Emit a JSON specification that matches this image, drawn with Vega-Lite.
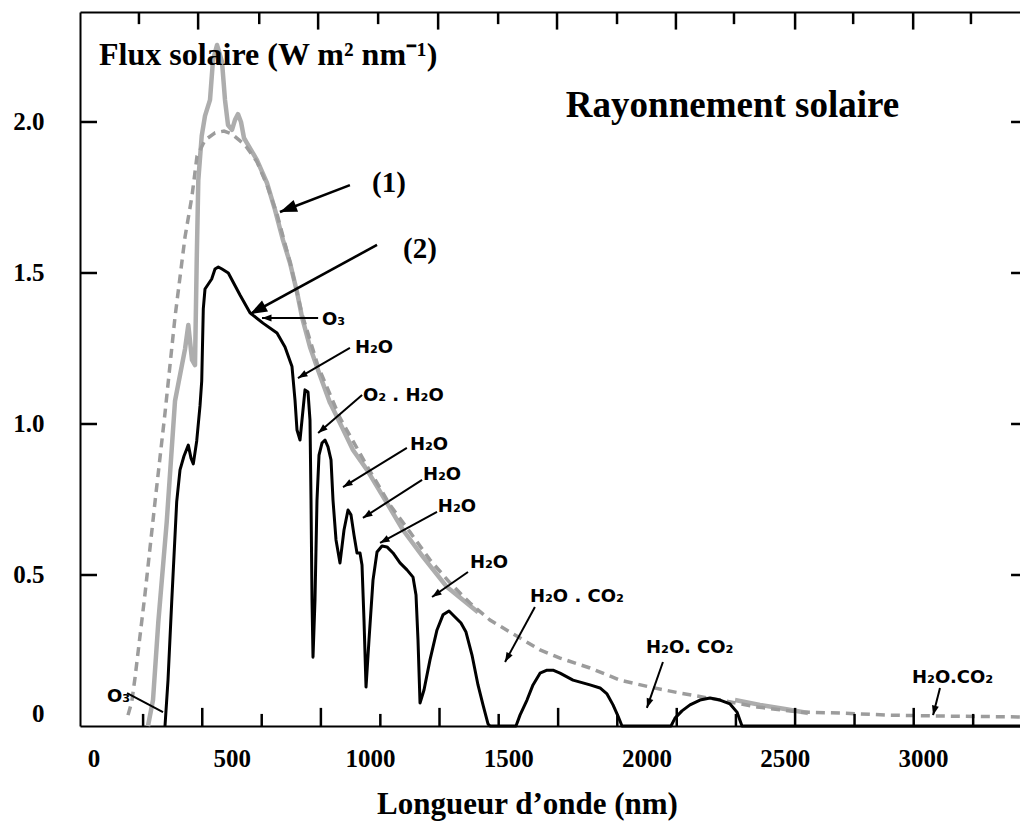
{
  "$schema": "https://vega.github.io/schema/vega-lite/v6.json",
  "background": "white",
  "autosize": {"type": "none"},
  "padding": {"left": 80, "top": 12, "right": 0, "bottom": 96},
  "width": 940,
  "height": 714,
  "config": {
    "view": {"stroke": null},
    "axis": {
      "grid": false,
      "domainColor": "black",
      "domainWidth": 2,
      "labelColor": "black",
      "titleColor": "black",
      "labelFont": "Liberation Serif",
      "titleFont": "Liberation Serif",
      "labelFontWeight": "bold",
      "titleFontWeight": "bold"
    }
  },
  "datasets": {
    "spectre": [
      {"serie": "extraterrestre", "seg": "a", "nm": 196.7, "flux": 0},
      {"serie": "extraterrestre", "seg": "a", "nm": 214.8, "flux": 0.086},
      {"serie": "extraterrestre", "seg": "a", "nm": 234.0, "flux": 0.344},
      {"serie": "extraterrestre", "seg": "a", "nm": 264.4, "flux": 0.675},
      {"serie": "extraterrestre", "seg": "a", "nm": 294.4, "flux": 1.076},
      {"serie": "extraterrestre", "seg": "a", "nm": 330.6, "flux": 1.248},
      {"serie": "extraterrestre", "seg": "a", "nm": 342.5, "flux": 1.328},
      {"serie": "extraterrestre", "seg": "a", "nm": 355.9, "flux": 1.212},
      {"serie": "extraterrestre", "seg": "a", "nm": 366.7, "flux": 1.195},
      {"serie": "extraterrestre", "seg": "a", "nm": 372.9, "flux": 1.54},
      {"serie": "extraterrestre", "seg": "a", "nm": 378.7, "flux": 1.808},
      {"serie": "extraterrestre", "seg": "a", "nm": 391.0, "flux": 1.954},
      {"serie": "extraterrestre", "seg": "a", "nm": 402.9, "flux": 2.02},
      {"serie": "extraterrestre", "seg": "a", "nm": 421.0, "flux": 2.073},
      {"serie": "extraterrestre", "seg": "a", "nm": 431.8, "flux": 2.205},
      {"serie": "extraterrestre", "seg": "a", "nm": 446.3, "flux": 2.255},
      {"serie": "extraterrestre", "seg": "a", "nm": 464.4, "flux": 2.199},
      {"serie": "extraterrestre", "seg": "a", "nm": 475.2, "flux": 2.073},
      {"serie": "extraterrestre", "seg": "a", "nm": 486.1, "flux": 1.99},
      {"serie": "extraterrestre", "seg": "a", "nm": 500.5, "flux": 1.974},
      {"serie": "extraterrestre", "seg": "a", "nm": 511.4, "flux": 2.007},
      {"serie": "extraterrestre", "seg": "a", "nm": 522.2, "flux": 2.026},
      {"serie": "extraterrestre", "seg": "a", "nm": 533.1, "flux": 2.0},
      {"serie": "extraterrestre", "seg": "a", "nm": 543.9, "flux": 1.947},
      {"serie": "extraterrestre", "seg": "a", "nm": 554.8, "flux": 1.93},
      {"serie": "extraterrestre", "seg": "a", "nm": 590.9, "flux": 1.874},
      {"serie": "extraterrestre", "seg": "a", "nm": 627.1, "flux": 1.798},
      {"serie": "extraterrestre", "seg": "a", "nm": 656.1, "flux": 1.709},
      {"serie": "extraterrestre", "seg": "a", "nm": 685.0, "flux": 1.609},
      {"serie": "extraterrestre", "seg": "a", "nm": 710.3, "flux": 1.533},
      {"serie": "extraterrestre", "seg": "a", "nm": 735.6, "flux": 1.437},
      {"serie": "extraterrestre", "seg": "a", "nm": 753.7, "flux": 1.354},
      {"serie": "extraterrestre", "seg": "a", "nm": 782.6, "flux": 1.255},
      {"serie": "extraterrestre", "seg": "a", "nm": 811.6, "flux": 1.179},
      {"serie": "extraterrestre", "seg": "a", "nm": 855.0, "flux": 1.07},
      {"serie": "extraterrestre", "seg": "a", "nm": 891.1, "flux": 1.003},
      {"serie": "extraterrestre", "seg": "a", "nm": 938.1, "flux": 0.914},
      {"serie": "extraterrestre", "seg": "a", "nm": 988.8, "flux": 0.848},
      {"serie": "extraterrestre", "seg": "a", "nm": 1061.1, "flux": 0.738},
      {"serie": "extraterrestre", "seg": "a", "nm": 1119.0, "flux": 0.649},
      {"serie": "extraterrestre", "seg": "a", "nm": 1191.3, "flux": 0.56},
      {"serie": "extraterrestre", "seg": "a", "nm": 1278.1, "flux": 0.46},
      {"serie": "extraterrestre", "seg": "a", "nm": 1336.0, "flux": 0.417},
      {"serie": "extraterrestre", "seg": "a", "nm": 1390.2, "flux": 0.377},
      {"serie": "extraterrestre", "seg": "b", "nm": 2319.7, "flux": 0.086},
      {"serie": "extraterrestre", "seg": "b", "nm": 2410.1, "flux": 0.07},
      {"serie": "extraterrestre", "seg": "b", "nm": 2500.5, "flux": 0.056},
      {"serie": "extraterrestre", "seg": "b", "nm": 2583.7, "flux": 0.043},

      {"serie": "corps_noir", "seg": "a", "nm": 124.4, "flux": 0.036},
      {"serie": "corps_noir", "seg": "a", "nm": 137.8, "flux": 0.079},
      {"serie": "corps_noir", "seg": "a", "nm": 149.7, "flux": 0.159},
      {"serie": "corps_noir", "seg": "a", "nm": 185.9, "flux": 0.437},
      {"serie": "corps_noir", "seg": "a", "nm": 222.1, "flux": 0.742},
      {"serie": "corps_noir", "seg": "a", "nm": 258.2, "flux": 1.036},
      {"serie": "corps_noir", "seg": "a", "nm": 294.4, "flux": 1.354},
      {"serie": "corps_noir", "seg": "a", "nm": 330.6, "flux": 1.619},
      {"serie": "corps_noir", "seg": "a", "nm": 355.9, "flux": 1.755},
      {"serie": "corps_noir", "seg": "a", "nm": 374.0, "flux": 1.887},
      {"serie": "corps_noir", "seg": "a", "nm": 402.9, "flux": 1.94},
      {"serie": "corps_noir", "seg": "a", "nm": 439.1, "flux": 1.964},
      {"serie": "corps_noir", "seg": "a", "nm": 471.6, "flux": 1.97},
      {"serie": "corps_noir", "seg": "a", "nm": 500.5, "flux": 1.96},
      {"serie": "corps_noir", "seg": "a", "nm": 547.6, "flux": 1.924},
      {"serie": "corps_noir", "seg": "a", "nm": 590.9, "flux": 1.868},
      {"serie": "corps_noir", "seg": "a", "nm": 627.1, "flux": 1.791},
      {"serie": "corps_noir", "seg": "a", "nm": 663.3, "flux": 1.695},
      {"serie": "corps_noir", "seg": "a", "nm": 710.3, "flux": 1.536},
      {"serie": "corps_noir", "seg": "a", "nm": 753.7, "flux": 1.364},
      {"serie": "corps_noir", "seg": "a", "nm": 811.6, "flux": 1.192},
      {"serie": "corps_noir", "seg": "a", "nm": 891.1, "flux": 1.02},
      {"serie": "corps_noir", "seg": "a", "nm": 988.8, "flux": 0.861},
      {"serie": "corps_noir", "seg": "a", "nm": 1071.9, "flux": 0.732},
      {"serie": "corps_noir", "seg": "a", "nm": 1144.3, "flux": 0.642},
      {"serie": "corps_noir", "seg": "a", "nm": 1216.6, "flux": 0.55},
      {"serie": "corps_noir", "seg": "a", "nm": 1289.0, "flux": 0.474},
      {"serie": "corps_noir", "seg": "a", "nm": 1361.3, "flux": 0.407},
      {"serie": "corps_noir", "seg": "a", "nm": 1433.6, "flux": 0.351},
      {"serie": "corps_noir", "seg": "a", "nm": 1505.9, "flux": 0.311},
      {"serie": "corps_noir", "seg": "a", "nm": 1614.5, "flux": 0.252},
      {"serie": "corps_noir", "seg": "a", "nm": 1686.8, "flux": 0.225},
      {"serie": "corps_noir", "seg": "a", "nm": 1795.3, "flux": 0.192},
      {"serie": "corps_noir", "seg": "a", "nm": 1903.8, "flux": 0.152},
      {"serie": "corps_noir", "seg": "a", "nm": 2012.3, "flux": 0.129},
      {"serie": "corps_noir", "seg": "a", "nm": 2120.8, "flux": 0.109},
      {"serie": "corps_noir", "seg": "a", "nm": 2265.4, "flux": 0.086},
      {"serie": "corps_noir", "seg": "a", "nm": 2399.3, "flux": 0.063},
      {"serie": "corps_noir", "seg": "a", "nm": 2554.8, "flux": 0.046},
      {"serie": "corps_noir", "seg": "a", "nm": 2699.4, "flux": 0.043},
      {"serie": "corps_noir", "seg": "a", "nm": 2880.3, "flux": 0.036},
      {"serie": "corps_noir", "seg": "a", "nm": 3061.1, "flux": 0.033},
      {"serie": "corps_noir", "seg": "a", "nm": 3350.4, "flux": 0.03},

      {"serie": "niveau_mer", "seg": "a", "nm": 258.2, "flux": 0},
      {"serie": "niveau_mer", "seg": "a", "nm": 269.1, "flux": 0.152},
      {"serie": "niveau_mer", "seg": "a", "nm": 282.5, "flux": 0.411},
      {"serie": "niveau_mer", "seg": "a", "nm": 300.5, "flux": 0.742},
      {"serie": "niveau_mer", "seg": "a", "nm": 312.5, "flux": 0.848},
      {"serie": "niveau_mer", "seg": "a", "nm": 326.9, "flux": 0.894},
      {"serie": "niveau_mer", "seg": "a", "nm": 342.5, "flux": 0.93},
      {"serie": "niveau_mer", "seg": "a", "nm": 352.3, "flux": 0.887},
      {"serie": "niveau_mer", "seg": "a", "nm": 360.6, "flux": 0.868},
      {"serie": "niveau_mer", "seg": "a", "nm": 372.9, "flux": 0.944},
      {"serie": "niveau_mer", "seg": "a", "nm": 384.8, "flux": 1.06},
      {"serie": "niveau_mer", "seg": "a", "nm": 391.0, "flux": 1.142},
      {"serie": "niveau_mer", "seg": "a", "nm": 396.7, "flux": 1.381},
      {"serie": "niveau_mer", "seg": "a", "nm": 402.9, "flux": 1.447},
      {"serie": "niveau_mer", "seg": "a", "nm": 427.1, "flux": 1.48},
      {"serie": "niveau_mer", "seg": "a", "nm": 439.1, "flux": 1.513},
      {"serie": "niveau_mer", "seg": "a", "nm": 451.0, "flux": 1.52},
      {"serie": "niveau_mer", "seg": "a", "nm": 464.4, "flux": 1.513},
      {"serie": "niveau_mer", "seg": "a", "nm": 487.2, "flux": 1.5},
      {"serie": "niveau_mer", "seg": "a", "nm": 529.5, "flux": 1.427},
      {"serie": "niveau_mer", "seg": "a", "nm": 565.6, "flux": 1.368},
      {"serie": "niveau_mer", "seg": "a", "nm": 612.6, "flux": 1.334},
      {"serie": "niveau_mer", "seg": "a", "nm": 663.3, "flux": 1.301},
      {"serie": "niveau_mer", "seg": "a", "nm": 692.2, "flux": 1.255},
      {"serie": "niveau_mer", "seg": "a", "nm": 717.5, "flux": 1.19},
      {"serie": "niveau_mer", "seg": "a", "nm": 728.4, "flux": 1.079},
      {"serie": "niveau_mer", "seg": "a", "nm": 735.6, "flux": 0.98},
      {"serie": "niveau_mer", "seg": "a", "nm": 746.5, "flux": 0.947},
      {"serie": "niveau_mer", "seg": "a", "nm": 764.5, "flux": 1.113},
      {"serie": "niveau_mer", "seg": "a", "nm": 775.4, "flux": 1.106},
      {"serie": "niveau_mer", "seg": "a", "nm": 782.6, "flux": 1.013},
      {"serie": "niveau_mer", "seg": "a", "nm": 786.3, "flux": 0.748},
      {"serie": "niveau_mer", "seg": "a", "nm": 789.9, "flux": 0.417},
      {"serie": "niveau_mer", "seg": "a", "nm": 793.5, "flux": 0.228},
      {"serie": "niveau_mer", "seg": "a", "nm": 800.7, "flux": 0.417},
      {"serie": "niveau_mer", "seg": "a", "nm": 807.9, "flux": 0.748},
      {"serie": "niveau_mer", "seg": "a", "nm": 815.2, "flux": 0.897},
      {"serie": "niveau_mer", "seg": "a", "nm": 826.0, "flux": 0.937},
      {"serie": "niveau_mer", "seg": "a", "nm": 836.9, "flux": 0.947},
      {"serie": "niveau_mer", "seg": "a", "nm": 847.7, "flux": 0.924},
      {"serie": "niveau_mer", "seg": "a", "nm": 858.6, "flux": 0.881},
      {"serie": "niveau_mer", "seg": "a", "nm": 865.8, "flux": 0.748},
      {"serie": "niveau_mer", "seg": "a", "nm": 876.7, "flux": 0.616},
      {"serie": "niveau_mer", "seg": "a", "nm": 891.1, "flux": 0.54},
      {"serie": "niveau_mer", "seg": "a", "nm": 905.6, "flux": 0.649},
      {"serie": "niveau_mer", "seg": "a", "nm": 920.1, "flux": 0.715},
      {"serie": "niveau_mer", "seg": "a", "nm": 930.9, "flux": 0.699},
      {"serie": "niveau_mer", "seg": "a", "nm": 941.8, "flux": 0.632},
      {"serie": "niveau_mer", "seg": "a", "nm": 952.6, "flux": 0.573},
      {"serie": "niveau_mer", "seg": "a", "nm": 963.5, "flux": 0.573},
      {"serie": "niveau_mer", "seg": "a", "nm": 970.7, "flux": 0.533},
      {"serie": "niveau_mer", "seg": "a", "nm": 977.9, "flux": 0.351},
      {"serie": "niveau_mer", "seg": "a", "nm": 985.2, "flux": 0.129},
      {"serie": "niveau_mer", "seg": "a", "nm": 996.0, "flux": 0.285},
      {"serie": "niveau_mer", "seg": "a", "nm": 1010.5, "flux": 0.483},
      {"serie": "niveau_mer", "seg": "a", "nm": 1025.0, "flux": 0.576},
      {"serie": "niveau_mer", "seg": "a", "nm": 1043.0, "flux": 0.596},
      {"serie": "niveau_mer", "seg": "a", "nm": 1061.1, "flux": 0.593},
      {"serie": "niveau_mer", "seg": "a", "nm": 1082.8, "flux": 0.573},
      {"serie": "niveau_mer", "seg": "a", "nm": 1108.1, "flux": 0.54},
      {"serie": "niveau_mer", "seg": "a", "nm": 1133.4, "flux": 0.517},
      {"serie": "niveau_mer", "seg": "a", "nm": 1155.1, "flux": 0.493},
      {"serie": "niveau_mer", "seg": "a", "nm": 1166.0, "flux": 0.434},
      {"serie": "niveau_mer", "seg": "a", "nm": 1173.2, "flux": 0.285},
      {"serie": "niveau_mer", "seg": "a", "nm": 1180.5, "flux": 0.076},
      {"serie": "niveau_mer", "seg": "a", "nm": 1194.9, "flux": 0.119},
      {"serie": "niveau_mer", "seg": "a", "nm": 1216.6, "flux": 0.219},
      {"serie": "niveau_mer", "seg": "a", "nm": 1241.9, "flux": 0.318},
      {"serie": "niveau_mer", "seg": "a", "nm": 1263.6, "flux": 0.368},
      {"serie": "niveau_mer", "seg": "a", "nm": 1285.3, "flux": 0.381},
      {"serie": "niveau_mer", "seg": "a", "nm": 1307.0, "flux": 0.361},
      {"serie": "niveau_mer", "seg": "a", "nm": 1328.7, "flux": 0.341},
      {"serie": "niveau_mer", "seg": "a", "nm": 1346.8, "flux": 0.311},
      {"serie": "niveau_mer", "seg": "a", "nm": 1368.5, "flux": 0.235},
      {"serie": "niveau_mer", "seg": "a", "nm": 1390.2, "flux": 0.136},
      {"serie": "niveau_mer", "seg": "a", "nm": 1408.3, "flux": 0.07},
      {"serie": "niveau_mer", "seg": "a", "nm": 1426.4, "flux": 0.007},
      {"serie": "niveau_mer", "seg": "a", "nm": 1433.6, "flux": 0},
      {"serie": "niveau_mer", "seg": "a", "nm": 1527.6, "flux": 0},
      {"serie": "niveau_mer", "seg": "a", "nm": 1542.1, "flux": 0.036},
      {"serie": "niveau_mer", "seg": "a", "nm": 1567.4, "flux": 0.086},
      {"serie": "niveau_mer", "seg": "a", "nm": 1589.1, "flux": 0.136},
      {"serie": "niveau_mer", "seg": "a", "nm": 1614.5, "flux": 0.175},
      {"serie": "niveau_mer", "seg": "a", "nm": 1639.8, "flux": 0.185},
      {"serie": "niveau_mer", "seg": "a", "nm": 1661.5, "flux": 0.185},
      {"serie": "niveau_mer", "seg": "a", "nm": 1686.8, "flux": 0.175},
      {"serie": "niveau_mer", "seg": "a", "nm": 1733.8, "flux": 0.152},
      {"serie": "niveau_mer", "seg": "a", "nm": 1795.3, "flux": 0.136},
      {"serie": "niveau_mer", "seg": "a", "nm": 1831.5, "flux": 0.126},
      {"serie": "niveau_mer", "seg": "a", "nm": 1856.8, "flux": 0.106},
      {"serie": "niveau_mer", "seg": "a", "nm": 1878.5, "flux": 0.07},
      {"serie": "niveau_mer", "seg": "a", "nm": 1896.6, "flux": 0.033},
      {"serie": "niveau_mer", "seg": "a", "nm": 1911.0, "flux": 0},
      {"serie": "niveau_mer", "seg": "a", "nm": 2088.2, "flux": 0},
      {"serie": "niveau_mer", "seg": "a", "nm": 2102.7, "flux": 0.026},
      {"serie": "niveau_mer", "seg": "a", "nm": 2128.0, "flux": 0.05},
      {"serie": "niveau_mer", "seg": "a", "nm": 2156.9, "flux": 0.07},
      {"serie": "niveau_mer", "seg": "a", "nm": 2193.1, "flux": 0.086},
      {"serie": "niveau_mer", "seg": "a", "nm": 2229.3, "flux": 0.093},
      {"serie": "niveau_mer", "seg": "a", "nm": 2265.4, "flux": 0.086},
      {"serie": "niveau_mer", "seg": "a", "nm": 2301.6, "flux": 0.073},
      {"serie": "niveau_mer", "seg": "a", "nm": 2326.9, "flux": 0.046},
      {"serie": "niveau_mer", "seg": "a", "nm": 2345.0, "flux": 0},
      {"serie": "niveau_mer", "seg": "a", "nm": 3350.4, "flux": 0}
    ],
    "textes": [
      {"kind": "axe", "txt": "Flux solaire (W m² nm⁻¹)", "nm": 19.5, "flux": 2.19},
      {"kind": "titre", "txt": "Rayonnement solaire", "nm": 1708, "flux": 2.018},
      {"kind": "num", "txt": "(1)", "nm": 1007, "flux": 1.768},
      {"kind": "num", "txt": "(2)", "nm": 1119, "flux": 1.55},
      {"kind": "chem", "txt": "O₃", "nm": 826, "flux": 1.344},
      {"kind": "chem", "txt": "H₂O", "nm": 945, "flux": 1.252},
      {"kind": "chem", "txt": "O₂ . H₂O", "nm": 974, "flux": 1.093},
      {"kind": "chem", "txt": "H₂O", "nm": 1144, "flux": 0.93},
      {"kind": "chem", "txt": "H₂O", "nm": 1191, "flux": 0.831},
      {"kind": "chem", "txt": "H₂O", "nm": 1245, "flux": 0.725},
      {"kind": "chem", "txt": "H₂O", "nm": 1361, "flux": 0.54},
      {"kind": "chem", "txt": "H₂O . CO₂", "nm": 1578, "flux": 0.426},
      {"kind": "chem", "txt": "H₂O. CO₂", "nm": 1998, "flux": 0.258},
      {"kind": "chem", "txt": "H₂O.CO₂", "nm": 2960, "flux": 0.159},
      {"kind": "chem", "txt": "O₃", "nm": 48, "flux": 0.096}
    ],
    "fleches": [
      {"kind": "num", "from_nm": 927, "from_flux": 1.791, "to_nm": 674, "to_flux": 1.702, "head": true},
      {"kind": "num", "from_nm": 1025, "from_flux": 1.593, "to_nm": 566, "to_flux": 1.364, "head": true},
      {"kind": "chem", "from_nm": 812, "from_flux": 1.351, "to_nm": 609, "to_flux": 1.351, "head": true},
      {"kind": "chem", "from_nm": 927, "from_flux": 1.252, "to_nm": 739, "to_flux": 1.152, "head": true},
      {"kind": "chem", "from_nm": 971, "from_flux": 1.096, "to_nm": 812, "to_flux": 0.97, "head": true},
      {"kind": "chem", "from_nm": 1133, "from_flux": 0.921, "to_nm": 902, "to_flux": 0.791, "head": true},
      {"kind": "chem", "from_nm": 1188, "from_flux": 0.815, "to_nm": 974, "to_flux": 0.689, "head": true},
      {"kind": "chem", "from_nm": 1242, "from_flux": 0.709, "to_nm": 1036, "to_flux": 0.606, "head": true},
      {"kind": "chem", "from_nm": 1354, "from_flux": 0.51, "to_nm": 1224, "to_flux": 0.427, "head": true},
      {"kind": "chem", "from_nm": 1596, "from_flux": 0.394, "to_nm": 1488, "to_flux": 0.212, "head": true},
      {"kind": "chem", "from_nm": 2059, "from_flux": 0.212, "to_nm": 2001, "to_flux": 0.06, "head": true},
      {"kind": "chem", "from_nm": 3061, "from_flux": 0.126, "to_nm": 3036, "to_flux": 0.036, "head": true},
      {"kind": "chem", "from_nm": 121, "from_flux": 0.109, "to_nm": 251, "to_flux": 0.046, "head": false}
    ],
    "graduations_x": [
      {"bord": "bas", "rang": "court", "nm": 179},
      {"bord": "bas", "rang": "long", "nm": 393},
      {"bord": "bas", "rang": "court", "nm": 608},
      {"bord": "bas", "rang": "long", "nm": 822},
      {"bord": "bas", "rang": "court", "nm": 1037},
      {"bord": "bas", "rang": "long", "nm": 1251},
      {"bord": "bas", "rang": "court", "nm": 1465},
      {"bord": "bas", "rang": "long", "nm": 1680},
      {"bord": "bas", "rang": "court", "nm": 1894},
      {"bord": "bas", "rang": "long", "nm": 2109},
      {"bord": "bas", "rang": "court", "nm": 2323},
      {"bord": "bas", "rang": "long", "nm": 2537},
      {"bord": "bas", "rang": "court", "nm": 2752},
      {"bord": "bas", "rang": "long", "nm": 2966},
      {"bord": "bas", "rang": "court", "nm": 3181},
      {"bord": "haut", "rang": "court", "nm": 164},
      {"bord": "haut", "rang": "long", "nm": 378},
      {"bord": "haut", "rang": "court", "nm": 599},
      {"bord": "haut", "rang": "long", "nm": 812},
      {"bord": "haut", "rang": "court", "nm": 1029},
      {"bord": "haut", "rang": "long", "nm": 1246},
      {"bord": "haut", "rang": "court", "nm": 1463},
      {"bord": "haut", "rang": "long", "nm": 1676},
      {"bord": "haut", "rang": "court", "nm": 1893},
      {"bord": "haut", "rang": "long", "nm": 2106},
      {"bord": "haut", "rang": "court", "nm": 2316},
      {"bord": "haut", "rang": "long", "nm": 2537},
      {"bord": "haut", "rang": "court", "nm": 2747},
      {"bord": "haut", "rang": "long", "nm": 2964},
      {"bord": "haut", "rang": "court", "nm": 3173}
    ],
    "graduations_y": [
      {"flux": 0.5},
      {"flux": 1.0},
      {"flux": 1.5},
      {"flux": 2.0}
    ]
  },
  "resolve": {"axis": {"x": "independent", "y": "independent"}},
  "layer": [
    {
      "data": {"name": "spectre"},
      "transform": [{"filter": "datum.serie == 'extraterrestre'"}],
      "mark": {"type": "line", "color": "#adadad", "strokeWidth": 4.5, "strokeJoin": "round"},
      "encoding": {
        "x": {"field": "nm", "type": "quantitative",
          "scale": {"domain": [-49.2, 3350.4], "nice": false, "zero": false},
          "axis": {"orient": "bottom", "values": [0, 500, 1000, 1500, 2000, 2500, 3000], "format": "d",
            "ticks": false, "domain": true, "labelFontSize": 25, "labelPadding": 20,
            "labelFlush": false, "labelOverlap": false,
            "title": "Longueur d’onde (nm)", "titleFontSize": 31, "titleX": 447, "titleY": 87,
            "titleBaseline": "alphabetic"}},
        "y": {"field": "flux", "type": "quantitative",
          "scale": {"domain": [0, 2.3642], "nice": false, "zero": false},
          "axis": {"orient": "left", "values": [0, 0.5, 1, 1.5, 2],
            "labelExpr": "datum.value == 0 ? '0' : format(datum.value, '.1f')",
            "ticks": false, "labelPadding": 36, "labelFontSize": 25, "labelFlush": true,
            "domain": true, "title": null}},
        "detail": {"field": "seg", "type": "nominal"}
      }
    },
    {
      "data": {"name": "spectre"},
      "transform": [{"filter": "datum.serie == 'corps_noir'"}],
      "mark": {"type": "line", "color": "#9c9c9c", "strokeWidth": 3.5, "strokeDash": [9, 6]},
      "encoding": {
        "x": {"field": "nm", "type": "quantitative",
          "scale": {"domain": [-49.2, 3350.4], "nice": false, "zero": false},
          "axis": {"orient": "top", "ticks": false, "labels": false, "domain": true, "title": null}},
        "y": {"field": "flux", "type": "quantitative",
          "scale": {"domain": [0, 2.3642], "nice": false, "zero": false}, "axis": null}
      }
    },
    {
      "data": {"name": "spectre"},
      "transform": [{"filter": "datum.serie == 'niveau_mer'"}],
      "mark": {"type": "line", "color": "black", "strokeWidth": 3, "strokeJoin": "round"},
      "encoding": {
        "x": {"field": "nm", "type": "quantitative",
          "scale": {"domain": [-49.2, 3350.4], "nice": false, "zero": false}, "axis": null},
        "y": {"field": "flux", "type": "quantitative",
          "scale": {"domain": [0, 2.3642], "nice": false, "zero": false}, "axis": null}
      }
    },
    {
      "data": {"name": "graduations_x"},
      "transform": [{"filter": "datum.bord == 'bas' && datum.rang == 'long'"}],
      "mark": {"type": "rule", "color": "black", "strokeWidth": 2.5},
      "encoding": {
        "x": {"field": "nm", "type": "quantitative",
          "scale": {"domain": [-49.2, 3350.4], "nice": false, "zero": false}, "axis": null},
        "y": {"datum": 0, "type": "quantitative",
          "scale": {"domain": [0, 2.3642], "nice": false, "zero": false}, "axis": null},
        "y2": {"datum": 0.06}
      }
    },
    {
      "data": {"name": "graduations_x"},
      "transform": [{"filter": "datum.bord == 'bas' && datum.rang == 'court'"}],
      "mark": {"type": "rule", "color": "black", "strokeWidth": 2.5},
      "encoding": {
        "x": {"field": "nm", "type": "quantitative",
          "scale": {"domain": [-49.2, 3350.4], "nice": false, "zero": false}, "axis": null},
        "y": {"datum": 0, "type": "quantitative",
          "scale": {"domain": [0, 2.3642], "nice": false, "zero": false}, "axis": null},
        "y2": {"datum": 0.04}
      }
    },
    {
      "data": {"name": "graduations_x"},
      "transform": [{"filter": "datum.bord == 'haut' && datum.rang == 'long'"}],
      "mark": {"type": "rule", "color": "black", "strokeWidth": 2.5},
      "encoding": {
        "x": {"field": "nm", "type": "quantitative",
          "scale": {"domain": [-49.2, 3350.4], "nice": false, "zero": false}, "axis": null},
        "y": {"datum": 2.3642, "type": "quantitative",
          "scale": {"domain": [0, 2.3642], "nice": false, "zero": false}, "axis": null},
        "y2": {"datum": 2.306}
      }
    },
    {
      "data": {"name": "graduations_x"},
      "transform": [{"filter": "datum.bord == 'haut' && datum.rang == 'court'"}],
      "mark": {"type": "rule", "color": "black", "strokeWidth": 2.5},
      "encoding": {
        "x": {"field": "nm", "type": "quantitative",
          "scale": {"domain": [-49.2, 3350.4], "nice": false, "zero": false}, "axis": null},
        "y": {"datum": 2.3642, "type": "quantitative",
          "scale": {"domain": [0, 2.3642], "nice": false, "zero": false}, "axis": null},
        "y2": {"datum": 2.324}
      }
    },
    {
      "data": {"name": "graduations_y"},
      "mark": {"type": "rule", "color": "black", "strokeWidth": 2.5},
      "encoding": {
        "y": {"field": "flux", "type": "quantitative",
          "scale": {"domain": [0, 2.3642], "nice": false, "zero": false}, "axis": null},
        "x": {"datum": -49.2, "type": "quantitative",
          "scale": {"domain": [-49.2, 3350.4], "nice": false, "zero": false}, "axis": null},
        "x2": {"datum": 12.3}
      }
    },
    {
      "data": {"name": "graduations_y"},
      "mark": {"type": "rule", "color": "black", "strokeWidth": 2.5},
      "encoding": {
        "y": {"field": "flux", "type": "quantitative",
          "scale": {"domain": [0, 2.3642], "nice": false, "zero": false}, "axis": null},
        "x": {"datum": 3318, "type": "quantitative",
          "scale": {"domain": [-49.2, 3350.4], "nice": false, "zero": false}, "axis": null},
        "x2": {"datum": 3350.4}
      }
    },
    {
      "data": {"name": "fleches"},
      "mark": {"type": "rule", "color": "black"},
      "encoding": {
        "x": {"field": "from_nm", "type": "quantitative",
          "scale": {"domain": [-49.2, 3350.4], "nice": false, "zero": false}, "axis": null},
        "y": {"field": "from_flux", "type": "quantitative",
          "scale": {"domain": [0, 2.3642], "nice": false, "zero": false}, "axis": null},
        "x2": {"field": "to_nm"},
        "y2": {"field": "to_flux"},
        "strokeWidth": {"condition": {"test": "datum.kind == 'num'", "value": 2.6}, "value": 2}
      }
    },
    {
      "data": {"name": "fleches"},
      "transform": [
        {"filter": "datum.head"},
        {"calculate": "atan2((datum.to_nm - datum.from_nm) * 0.2765, (datum.to_flux - datum.from_flux) * 302) * 180 / PI", "as": "angle"}
      ],
      "mark": {"type": "point", "filled": true, "opacity": 1, "color": "black",
        "shape": "M0,0L0.7,1.9L-0.7,1.9Z"},
      "encoding": {
        "x": {"field": "to_nm", "type": "quantitative",
          "scale": {"domain": [-49.2, 3350.4], "nice": false, "zero": false}, "axis": null},
        "y": {"field": "to_flux", "type": "quantitative",
          "scale": {"domain": [0, 2.3642], "nice": false, "zero": false}, "axis": null},
        "angle": {"field": "angle", "type": "quantitative", "scale": null},
        "size": {"condition": {"test": "datum.kind == 'num'", "value": 320}, "value": 100}
      }
    },
    {
      "data": {"name": "textes"},
      "transform": [{"filter": "datum.kind == 'chem'"}],
      "mark": {"type": "text", "align": "left", "baseline": "middle", "font": "DejaVu Sans",
        "fontWeight": "bold", "fontSize": 18, "color": "black"},
      "encoding": {
        "x": {"field": "nm", "type": "quantitative",
          "scale": {"domain": [-49.2, 3350.4], "nice": false, "zero": false}, "axis": null},
        "y": {"field": "flux", "type": "quantitative",
          "scale": {"domain": [0, 2.3642], "nice": false, "zero": false}, "axis": null},
        "text": {"field": "txt", "type": "nominal"}
      }
    },
    {
      "data": {"name": "textes"},
      "transform": [{"filter": "datum.kind == 'num'"}],
      "mark": {"type": "text", "align": "left", "baseline": "alphabetic", "font": "Liberation Serif",
        "fontWeight": "bold", "fontSize": 29, "color": "black"},
      "encoding": {
        "x": {"field": "nm", "type": "quantitative",
          "scale": {"domain": [-49.2, 3350.4], "nice": false, "zero": false}, "axis": null},
        "y": {"field": "flux", "type": "quantitative",
          "scale": {"domain": [0, 2.3642], "nice": false, "zero": false}, "axis": null},
        "text": {"field": "txt", "type": "nominal"}
      }
    },
    {
      "data": {"name": "textes"},
      "transform": [{"filter": "datum.kind == 'axe'"}],
      "mark": {"type": "text", "align": "left", "baseline": "alphabetic", "font": "Liberation Serif",
        "fontWeight": "bold", "fontSize": 32, "color": "black"},
      "encoding": {
        "x": {"field": "nm", "type": "quantitative",
          "scale": {"domain": [-49.2, 3350.4], "nice": false, "zero": false}, "axis": null},
        "y": {"field": "flux", "type": "quantitative",
          "scale": {"domain": [0, 2.3642], "nice": false, "zero": false}, "axis": null},
        "text": {"field": "txt", "type": "nominal"}
      }
    },
    {
      "data": {"name": "textes"},
      "transform": [{"filter": "datum.kind == 'titre'"}],
      "mark": {"type": "text", "align": "left", "baseline": "alphabetic", "font": "Liberation Serif",
        "fontWeight": "bold", "fontSize": 37, "color": "black"},
      "encoding": {
        "x": {"field": "nm", "type": "quantitative",
          "scale": {"domain": [-49.2, 3350.4], "nice": false, "zero": false}, "axis": null},
        "y": {"field": "flux", "type": "quantitative",
          "scale": {"domain": [0, 2.3642], "nice": false, "zero": false}, "axis": null},
        "text": {"field": "txt", "type": "nominal"}
      }
    }
  ]
}
